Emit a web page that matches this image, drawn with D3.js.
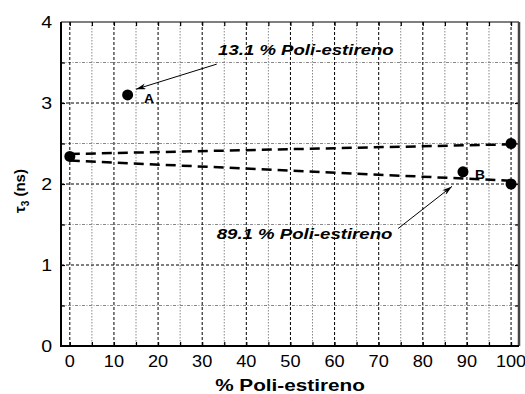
<!DOCTYPE html>
<html>
<head>
<meta charset="utf-8">
<script src="https://cdn.jsdelivr.net/npm/d3@7"></script>
<style>
  body { margin: 0; background: #fff; }
  text { font-family: "Liberation Sans", Arial, sans-serif; }
</style>
</head>
<body>
<div id="chart-area"></div>
<script>
// Data
var xTicks = [0, 10, 20, 30, 40, 50, 60, 70, 80, 90, 100];
var yTicks = [0, 1, 2, 3, 4];
var pointX = [0, 13.1, 89.1, 100, 100];
var pointY = [2.34, 3.10, 2.15, 2.50, 2.00];
var upperLineX = [0, 100];
var upperLineY = [2.37, 2.49];
var lowerLineX = [0, 100];
var lowerLineY = [2.29, 2.04];
var noteText = ["13.1 % Poli-estireno", "89.1 % Poli-estireno"];
var noteX = [33.6, 33.3];
var noteY = [3.59, 1.32];
var arrowFrom = [[33.3, 3.48], [74.4, 1.45]];
var arrowTo = [[15.0, 3.17], [86.6, 1.97]];
var pointLabels = ["A", "B"];
var pointLabelX = [16.8, 91.8];
var pointLabelY = [3.0, 2.06];

var margin = { left: 61, right: 6, top: 22, bottom: 48 },
    width = 525 - margin.left - margin.right,
    height = 394 - margin.top - margin.bottom;

var svg = d3.select("#chart-area").append("svg")
    .attr("width", 525)
    .attr("height", 394);

var defs = svg.append("defs");
defs.append("marker")
    .attr("id", "arrow")
    .attr("viewBox", "0 0 10 6")
    .attr("refX", 10).attr("refY", 3)
    .attr("markerWidth", 10).attr("markerHeight", 6)
    .attr("markerUnits", "userSpaceOnUse")
    .attr("orient", "auto")
    .append("path")
    .attr("d", "M0,0 L10,3 L0,6 L3,3 Z")
    .attr("fill", "#000");

var g = svg.append("g")
    .attr("transform", "translate(" + margin.left + "," + margin.top + ")");

var x = d3.scaleLinear().domain([-2, 101.8]).range([0, width]);
var y = d3.scaleLinear().domain([0, 4]).range([height, 0]);

// stretched text helper (the source picture is widened horizontally)
function label(parent, px, py, str, anchor, size, weight, style, sx) {
    return parent.append("text")
        .attr("transform", "translate(" + px + "," + py + ") scale(" + (sx || 1.2) + ",1)")
        .attr("text-anchor", anchor)
        .attr("font-size", size)
        .attr("font-weight", weight)
        .attr("font-style", style)
        .attr("fill", "#000")
        .text(str);
}

// Minor grid
var minorX = d3.range(5, 100, 10);
var minorY = d3.range(0.5, 4, 1);
g.selectAll(".minor-x").data(minorX).enter().append("line")
    .attr("x1", d => x(d)).attr("x2", d => x(d))
    .attr("y1", 0).attr("y2", height)
    .attr("stroke", "#888").attr("stroke-width", 1)
    .attr("stroke-dasharray", "1.5,1.5");
g.selectAll(".minor-y").data(minorY).enter().append("line")
    .attr("x1", 0).attr("x2", width)
    .attr("y1", d => y(d)).attr("y2", d => y(d))
    .attr("stroke", "#888").attr("stroke-width", 1)
    .attr("stroke-dasharray", "3,1.5,1,1.5");

// Major grid
g.selectAll(".major-x").data(xTicks).enter().append("line")
    .attr("x1", d => x(d)).attr("x2", d => x(d))
    .attr("y1", 0).attr("y2", height)
    .attr("stroke", "#000").attr("stroke-width", 1)
    .attr("stroke-dasharray", "3,2");
g.selectAll(".major-y").data(yTicks.slice(1, 4)).enter().append("line")
    .attr("x1", 0).attr("x2", width)
    .attr("y1", d => y(d)).attr("y2", d => y(d))
    .attr("stroke", "#000").attr("stroke-width", 1)
    .attr("stroke-dasharray", "3,2");

// Inward ticks on all four sides
var allX = d3.range(0, 101, 5);
var allY = d3.range(0.5, 4, 0.5);
g.append("g").call(d3.axisBottom(x).tickValues(allX).tickSize(-4).tickFormat(""))
    .attr("transform", "translate(0," + height + ")")
    .call(a => a.select(".domain").remove());
g.append("g").call(d3.axisTop(x).tickValues(allX).tickSize(-4).tickFormat(""))
    .call(a => a.select(".domain").remove());
g.append("g").call(d3.axisLeft(y).tickValues(allY).tickSize(-4).tickFormat(""))
    .call(a => a.select(".domain").remove());
g.append("g").call(d3.axisRight(y).tickValues(allY).tickSize(-4).tickFormat(""))
    .attr("transform", "translate(" + width + ",0)")
    .call(a => a.select(".domain").remove());
g.selectAll(".tick line").attr("stroke", "#000").attr("stroke-width", 1.2);

// Frame
g.append("line").attr("x1", 0).attr("x2", width).attr("y1", 0).attr("y2", 0)
    .attr("stroke", "#000").attr("stroke-width", 1.2);
g.append("line").attr("x1", width).attr("x2", width).attr("y1", 0).attr("y2", height)
    .attr("stroke", "#444").attr("stroke-width", 2.5);
g.append("line").attr("x1", 0).attr("x2", 0).attr("y1", 0).attr("y2", height + 1)
    .attr("stroke", "#000").attr("stroke-width", 2);
g.append("line").attr("x1", -1).attr("x2", width).attr("y1", height).attr("y2", height)
    .attr("stroke", "#000").attr("stroke-width", 2);

// Tick labels
xTicks.forEach(function (d) {
    label(g, x(d), height + 21, d, "middle", 16.5, "normal", "normal", 1.1);
});
yTicks.forEach(function (d) {
    label(g, -9, y(d) + 6, d, "end", 17, "normal", "normal", 1.15);
});

// Axis titles
label(g, width / 2, height + 45, "% Poli-estireno", "middle", 17, "bold", "normal", 1.22);
var yt = svg.append("text")
    .attr("transform", "translate(25,191) rotate(-90)")
    .attr("text-anchor", "middle")
    .attr("font-size", 15)
    .attr("font-weight", "bold")
    .attr("fill", "#000");
yt.append("tspan").text("\u03c4");
yt.append("tspan").attr("font-size", 10).attr("dy", 4).text("3");
yt.append("tspan").attr("dy", -4).text(" (ns)");

// Dashed lines
var line = d3.line().x(d => x(d[0])).y(d => y(d[1]));
[[upperLineX, upperLineY], [lowerLineX, lowerLineY]].forEach(function (s) {
    g.append("path")
        .attr("d", line(s[0].map((v, i) => [v, s[1][i]])))
        .attr("fill", "none")
        .attr("stroke", "#000")
        .attr("stroke-width", 2.5)
        .attr("stroke-dasharray", "10,6");
});

// Points
g.selectAll(".pt").data(pointX).enter().append("circle")
    .attr("cx", d => x(d))
    .attr("cy", (d, i) => y(pointY[i]))
    .attr("r", 5.5)
    .attr("fill", "#000");

// Annotations
noteText.forEach(function (t, i) {
    label(g, x(noteX[i]), y(noteY[i]), t, "start", 15.5, "bold", "italic", 1.2);
    g.append("line")
        .attr("x1", x(arrowFrom[i][0])).attr("y1", y(arrowFrom[i][1]))
        .attr("x2", x(arrowTo[i][0])).attr("y2", y(arrowTo[i][1]))
        .attr("stroke", "#000").attr("stroke-width", 1)
        .attr("marker-end", "url(#arrow)");
});
pointLabels.forEach(function (t, i) {
    label(g, x(pointLabelX[i]), y(pointLabelY[i]), t, "start", 12, "bold", "normal", 1.15);
});
</script>
</body>
</html>
